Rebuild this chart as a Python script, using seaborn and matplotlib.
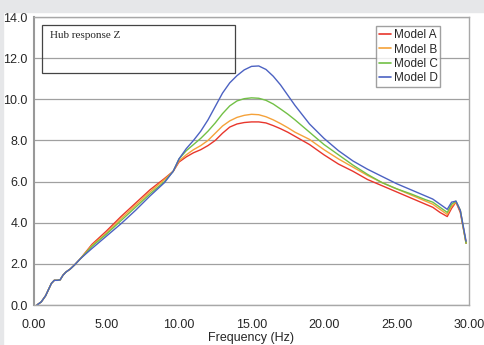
import matplotlib
matplotlib.use("Agg")
import matplotlib.pyplot as plt
import seaborn as sns
import pandas as pd
from matplotlib.patches import Rectangle

# shared low-frequency part (all models overlap here)
freq_low = [0.2, 0.5, 0.8, 1.0, 1.2, 1.4, 1.6, 1.8, 2.0, 2.2, 2.5, 2.8, 3.2]
resp_low = [0.0, 0.15, 0.45, 0.75, 1.05, 1.2, 1.2, 1.22, 1.45, 1.6, 1.75, 1.95, 2.25]

freq = [4, 5, 6, 7, 8, 9, 9.6, 10, 10.5, 11, 11.5, 12, 12.5, 13, 13.5, 14, 14.5,
        15, 15.5, 16, 16.5, 17, 17.5, 18, 19, 20, 21, 22, 23, 24, 25, 26, 27, 27.5,
        28, 28.5, 28.8, 29.1, 29.4, 29.8]

model_a = [2.95, 3.6, 4.3, 4.95, 5.6, 6.15, 6.5, 6.95, 7.2, 7.4, 7.55, 7.75, 8.0,
           8.35, 8.65, 8.8, 8.87, 8.9, 8.9, 8.85, 8.72, 8.57, 8.4, 8.2, 7.8, 7.3, 6.85,
           6.5, 6.1, 5.8, 5.5, 5.2, 4.9, 4.75, 4.5, 4.3, 4.7, 5.0, 4.5, 3.0]
model_b = [2.9, 3.5, 4.2, 4.85, 5.5, 6.1, 6.5, 7.0, 7.3, 7.55, 7.75, 8.0, 8.35,
           8.7, 8.95, 9.12, 9.22, 9.27, 9.25, 9.15, 9.0, 8.82, 8.62, 8.4, 8.05, 7.55, 7.1,
           6.7, 6.3, 5.95, 5.65, 5.35, 5.05, 4.9, 4.65, 4.4, 4.8, 5.0, 4.6, 3.0]
model_c = [2.85, 3.45, 4.1, 4.75, 5.4, 6.0, 6.5, 7.1, 7.5, 7.8, 8.1, 8.45, 8.85,
           9.3, 9.68, 9.92, 10.03, 10.07, 10.05, 9.95, 9.77, 9.53, 9.28, 9.0, 8.4, 7.8, 7.3,
           6.8, 6.35, 5.95, 5.65, 5.4, 5.12, 5.0, 4.75, 4.5, 4.9, 5.05, 4.6, 3.0]
model_d = [2.75, 3.35, 3.95, 4.6, 5.3, 5.95, 6.5, 7.1, 7.6, 8.0, 8.45, 9.0, 9.65,
           10.3, 10.8, 11.15, 11.43, 11.6, 11.62, 11.45, 11.12, 10.7, 10.2, 9.7, 8.8, 8.1,
           7.5, 7.0, 6.6, 6.25, 5.9, 5.6, 5.3, 5.15, 4.9, 4.65, 5.0, 5.05, 4.6, 3.1]

models = ["Model A", "Model B", "Model C", "Model D"]
colors = ["#e8362c", "#f5a23a", "#72c046", "#4c62c2"]

rows = []
for name, vals in zip(models, [model_a, model_b, model_c, model_d]):
    for f, v in zip(freq_low + freq, resp_low + vals):
        rows.append({"freq": f, "resp": v, "model": name})
data = pd.DataFrame(rows)

sns.set_style("white")
plt.rcParams["font.family"] = ["Liberation Sans", "DejaVu Sans"]

fig = plt.figure(figsize=(4.84, 3.45), dpi=100)
fig.patches.append(Rectangle((0, 1 - 12 / 345), 1, 12 / 345, transform=fig.transFigure,
                             color="#e6e7e9", zorder=0))
fig.patches.append(Rectangle((0, 0), 3 / 484, 1, transform=fig.transFigure,
                             color="#e6e7e9", zorder=0))
ax = fig.add_axes([34 / 484, 1 - 305 / 345, 435 / 484, 288 / 345])

sns.lineplot(data=data, x="freq", y="resp", hue="model", palette=dict(zip(models, colors)),
             linewidth=1.0, sort=False, estimator=None, ax=ax)

ax.set_xlim(0, 30)
ax.set_ylim(0, 14)
ax.set_xticks([0, 5, 10, 15, 20, 25, 30])
ax.set_xticklabels([f"{t:.2f}" for t in [0, 5, 10, 15, 20, 25, 30]])
ax.set_yticks([0, 2, 4, 6, 8, 10, 12, 14])
ax.set_yticklabels([f"{t:.1f}" for t in [0, 2, 4, 6, 8, 10, 12, 14]])
ax.tick_params(axis="both", labelsize=9, width=0.8, color="#888888", direction="out")
ax.tick_params(axis="x", length=4, pad=6)
ax.tick_params(axis="y", length=3, pad=1.5)
ax.yaxis.grid(True, color="#a0a0a0", linewidth=0.9)
ax.set_axisbelow(True)
for side in ["top", "right", "bottom"]:
    ax.spines[side].set_color("#a8a8a8")
    ax.spines[side].set_linewidth(1.0)
ax.spines["left"].set_color("#999999")
ax.spines["left"].set_linewidth(1.5)
ax.set_xlabel("Frequency (Hz)", fontsize=9, labelpad=1)
ax.set_ylabel("")

leg = ax.legend(loc="upper left", bbox_to_anchor=(0.786, 0.968), fontsize=8.5,
                frameon=True, fancybox=False, handlelength=1.0, handletextpad=0.25,
                labelspacing=0.2, borderpad=0.25, borderaxespad=0)
leg.get_frame().set_edgecolor("#888888")
leg.get_frame().set_linewidth(1.0)
for line in leg.get_lines():
    line.set_linewidth(1.2)

ax.add_patch(Rectangle((8 / 435, 1 - 73 / 288 + 17 / 288), 193 / 435, 48 / 288,
                       transform=ax.transAxes, fill=False, edgecolor="#444444",
                       linewidth=0.9, zorder=5))
ax.text(16 / 435, 1 - 35 / 288 + 17 / 288, "Hub response Z", transform=ax.transAxes,
        fontsize=8, family=["Liberation Serif", "DejaVu Serif"], va="center", ha="left",
        zorder=6)

fig.savefig("out.png", dpi=100)
